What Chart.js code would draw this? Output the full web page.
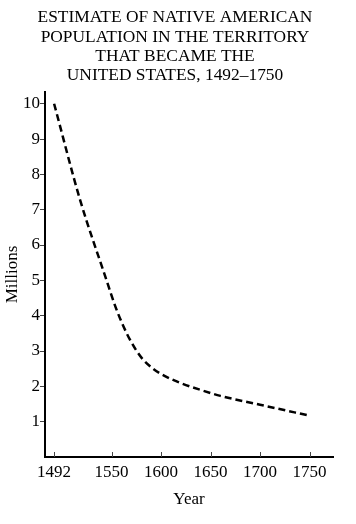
<!DOCTYPE html>
<html><head><meta charset="utf-8">
<script src="https://cdn.jsdelivr.net/npm/chart.js@4"></script>
<style>html,body{margin:0;padding:0;background:#fff}canvas{display:block}</style>
</head><body>
<canvas id="c" width="356" height="524"></canvas>
<script>
const titleLines = ["ESTIMATE OF NATIVE AMERICAN", "POPULATION IN THE TERRITORY", "THAT BECAME THE", "UNITED STATES, 1492\u20131750"];
const years = [1492, 1518, 1545, 1554, 1562, 1570, 1580, 1592, 1604, 1621, 1641, 1660, 1700, 1750];
const millions = [10, 7.3, 5.0, 4.25, 3.7, 3.25, 2.82, 2.5, 2.29, 2.08, 1.89, 1.73, 1.48, 1.17];
const xTickValues = [1492, 1550, 1600, 1650, 1700, 1750];
const yTickValues = [1, 2, 3, 4, 5, 6, 7, 8, 9, 10];
const xAxisTitle = "Year";
const yAxisTitle = "Millions";

const FONT = "'Liberation Serif', 'Times New Roman', serif";

const innerTicks = {
  id: 'innerTicks',
  afterDraw(chart) {
    const xs = chart.scales.x, ctx = chart.ctx;
    ctx.save();
    ctx.strokeStyle = '#444';
    ctx.lineWidth = 1;
    xs.ticks.forEach(t => {
      const px = Math.round(xs.getPixelForValue(t.value)) + 0.5;
      ctx.beginPath();
      ctx.moveTo(px, xs.top);
      ctx.lineTo(px, xs.top - 5);
      ctx.stroke();
    });
    ctx.restore();
  }
};

new Chart(document.getElementById('c'), {
  type: 'line',
  data: {
    datasets: [{
      data: years.map((y, i) => ({x: y, y: millions[i]})),
      borderColor: '#000',
      borderWidth: 2.5,
      borderDash: [7, 4],
      pointRadius: 0,
      fill: false,
      cubicInterpolationMode: 'monotone',
      clip: false
    }]
  },
  options: {
    responsive: false,
    animation: false,
    devicePixelRatio: 1,
    layout: {padding: {left: 17, right: 23, top: 0, bottom: 0}},
    plugins: {
      legend: {display: false},
      tooltip: {enabled: false},
      title: {
        display: true,
        text: titleLines,
        color: '#000',
        font: {family: FONT, size: 17.4, weight: 'normal', lineHeight: 1.11},
        padding: {top: 8, bottom: 6.8}
      }
    },
    scales: {
      x: {
        type: 'linear',
        min: 1482.8,
        max: 1773.7,
        afterBuildTicks: s => { s.ticks = xTickValues.map(v => ({value: v})); },
        afterFit: s => { s.height = 67; },
        grid: {display: true, drawOnChartArea: false, drawTicks: false},
        border: {display: true, color: '#000', width: 2},
        ticks: {color: '#000', font: {family: FONT, size: 17}, padding: 5, maxRotation: 0, autoSkip: false,
                callback: v => String(v)},
        title: {display: true, text: xAxisTitle, color: '#000', font: {family: FONT, size: 17}, padding: {top: 0, bottom: 14}}
      },
      y: {
        type: 'linear',
        min: 0,
        max: 10.33,
        afterBuildTicks: s => { s.ticks = yTickValues.map(v => ({value: v})); },
        afterFit: s => { s.width = 28; },
        grid: {display: true, drawOnChartArea: false, drawTicks: true, tickLength: 5, color: '#444', lineWidth: 1},
        border: {display: true, color: '#000', width: 2},
        ticks: {color: '#000', font: {family: FONT, size: 17}, padding: 0, autoSkip: false,
                callback: v => String(v)},
        title: {display: true, text: yAxisTitle, color: '#000', font: {family: FONT, size: 17}, padding: -15}
      }
    }
  },
  plugins: [innerTicks]
});
</script>
</body></html>
